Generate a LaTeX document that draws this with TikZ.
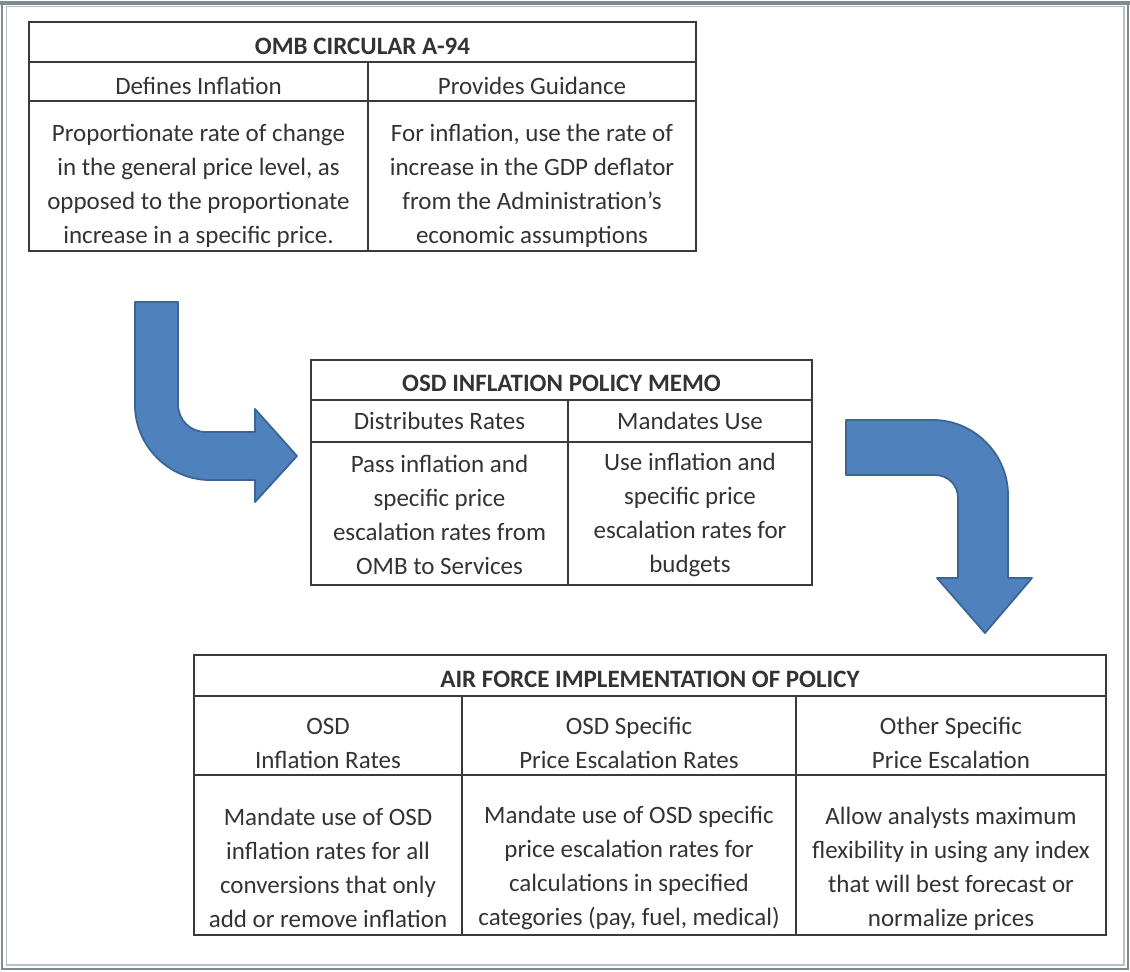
\documentclass[tikz,border=0pt]{standalone}
\usepackage{fontspec}
\setmainfont{Carlito}
\usetikzlibrary{positioning}

\definecolor{arrowblue}{HTML}{4F81BD}
\definecolor{arrowedge}{HTML}{3A6594}
\definecolor{gridline}{HTML}{3A3A3A}
\definecolor{inkgray}{HTML}{333333}
\definecolor{framegray}{HTML}{7E8C8E}
\definecolor{framelight}{HTML}{B4C0C2}

% pushes the lines of a cell down a little
\newcommand{\vpush}[1]{\rule{0pt}{#1}}

\begin{document}
\begin{tikzpicture}[
  x=0.5pt, y=-0.5pt,
  tabcell/.style={draw=gridline, line width=1.1pt, outer sep=0pt, inner sep=2pt,
                  anchor=north west, align=center, text=inkgray,
                  font=\fontsize{12.5}{17}\selectfont},
  tabtitle/.style={tabcell, font=\fontsize{12.5}{17}\selectfont\bfseries},
  bendarrow/.style={fill=arrowblue, draw=arrowedge, line width=0.9pt, line join=round}
]
  \useasboundingbox (0,0) rectangle (1130,971);
  \draw[framegray, line width=1.2pt] (2,2) rectangle (1128,969);
  \draw[framegray, line width=2pt] (0,3) -- (1130,3);
  \draw[framelight, line width=0.6pt] (6.5,6.5) rectangle (1124,965);

  % OMB circular
  \node[tabtitle, minimum width=333.5pt, minimum height=20pt] (omb) at (29,22)
      {\vpush{13pt}OMB CIRCULAR A-94};
  \node[tabcell, minimum width=169.5pt, minimum height=19.5pt,
        below right=0pt of omb.south west] (definf) {\vpush{13pt}Defines Inflation};
  \node[tabcell, minimum width=164pt, minimum height=19.5pt,
        below right=0pt of definf.north east] (guide) {\vpush{13pt}Provides Guidance};
  \node[tabcell, minimum width=169.5pt, minimum height=74.5pt,
        below right=0pt of definf.south west] (propbody)
      {\vpush{18pt}Proportionate rate of change\\in the general price level, as\\
       opposed to the proportionate\\increase in a specific price.};
  \node[tabcell, minimum width=164pt, minimum height=74.5pt,
        below right=0pt of guide.south west] (guidebody)
      {\vpush{18pt}For inflation, use the rate of\\increase in the GDP deflator\\
       from the Administration's\\economic assumptions};

  % OSD memo
  \node[tabtitle, minimum width=250.5pt, minimum height=20pt] (memo) at (311,360)
      {\vpush{12pt}OSD INFLATION POLICY MEMO};
  \node[tabcell, minimum width=128.5pt, minimum height=21pt,
        below right=0pt of memo.south west] (distrib) {Distributes Rates};
  \node[tabcell, minimum width=122pt, minimum height=21pt,
        below right=0pt of distrib.north east] (mandate) {Mandates Use};
  \node[tabcell, minimum width=128.5pt, minimum height=71.5pt,
        below right=0pt of distrib.south west] (passbody)
      {\vpush{10pt}Pass inflation and\\specific price\\escalation rates from\\OMB to Services};
  \node[tabcell, minimum width=122pt, minimum height=71.5pt,
        below right=0pt of mandate.south west] (usebody)
      {\vpush{10pt}Use inflation and\\specific price\\escalation rates for\\budgets};

  % Air Force implementation
  \node[tabtitle, minimum width=456pt, minimum height=20.5pt] (airforce) at (194,655)
      {\vpush{12pt}AIR FORCE IMPLEMENTATION OF POLICY};
  \node[tabcell, minimum width=134pt, minimum height=39.5pt,
        below right=0pt of airforce.south west] (osdinf)
      {\vpush{16pt}OSD\\Inflation Rates};
  \node[tabcell, minimum width=167pt, minimum height=39.5pt,
        below right=0pt of osdinf.north east] (osdspec)
      {\vpush{16pt}OSD Specific\\Price Escalation Rates};
  \node[tabcell, minimum width=155pt, minimum height=39.5pt,
        below right=0pt of osdspec.north east] (otherspec)
      {\vpush{16pt}Other Specific\\Price Escalation};
  \node[tabcell, minimum width=134pt, minimum height=80pt,
        below right=0pt of osdinf.south west] (infbody)
      {\vpush{22pt}Mandate use of OSD\\inflation rates for all\\
       conversions that only\\add or remove inflation};
  \node[tabcell, minimum width=167pt, minimum height=80pt,
        below right=0pt of osdspec.south west] (specbody)
      {\vpush{22pt}Mandate use of OSD specific\\price escalation rates for\\
       calculations in specified\\categories (pay, fuel, medical)};
  \node[tabcell, minimum width=155pt, minimum height=80pt,
        below right=0pt of otherspec.south west] (otherbody)
      {\vpush{22pt}Allow analysts maximum\\flexibility in using any index\\
       that will best forecast or\\normalize prices};

  % bent arrows
  \draw[bendarrow] (135,302) -- (135,405) .. controls (135,446) and (169,480) .. (210,480)
      -- (255,480) -- (255,502) -- (297,456) -- (255,409) -- (255,432) -- (206,432)
      .. controls (190,432) and (178,420) .. (178,404) -- (178,302) -- cycle;
  \draw[bendarrow] (846,420) -- (933,420) .. controls (974,420) and (1008,454) .. (1008,495)
      -- (1008,578) -- (1032,578) -- (985,633) -- (937,578) -- (958,578) -- (958,498)
      .. controls (958,485) and (948,475) .. (935,475) -- (846,475) -- cycle;
\end{tikzpicture}
\end{document}
